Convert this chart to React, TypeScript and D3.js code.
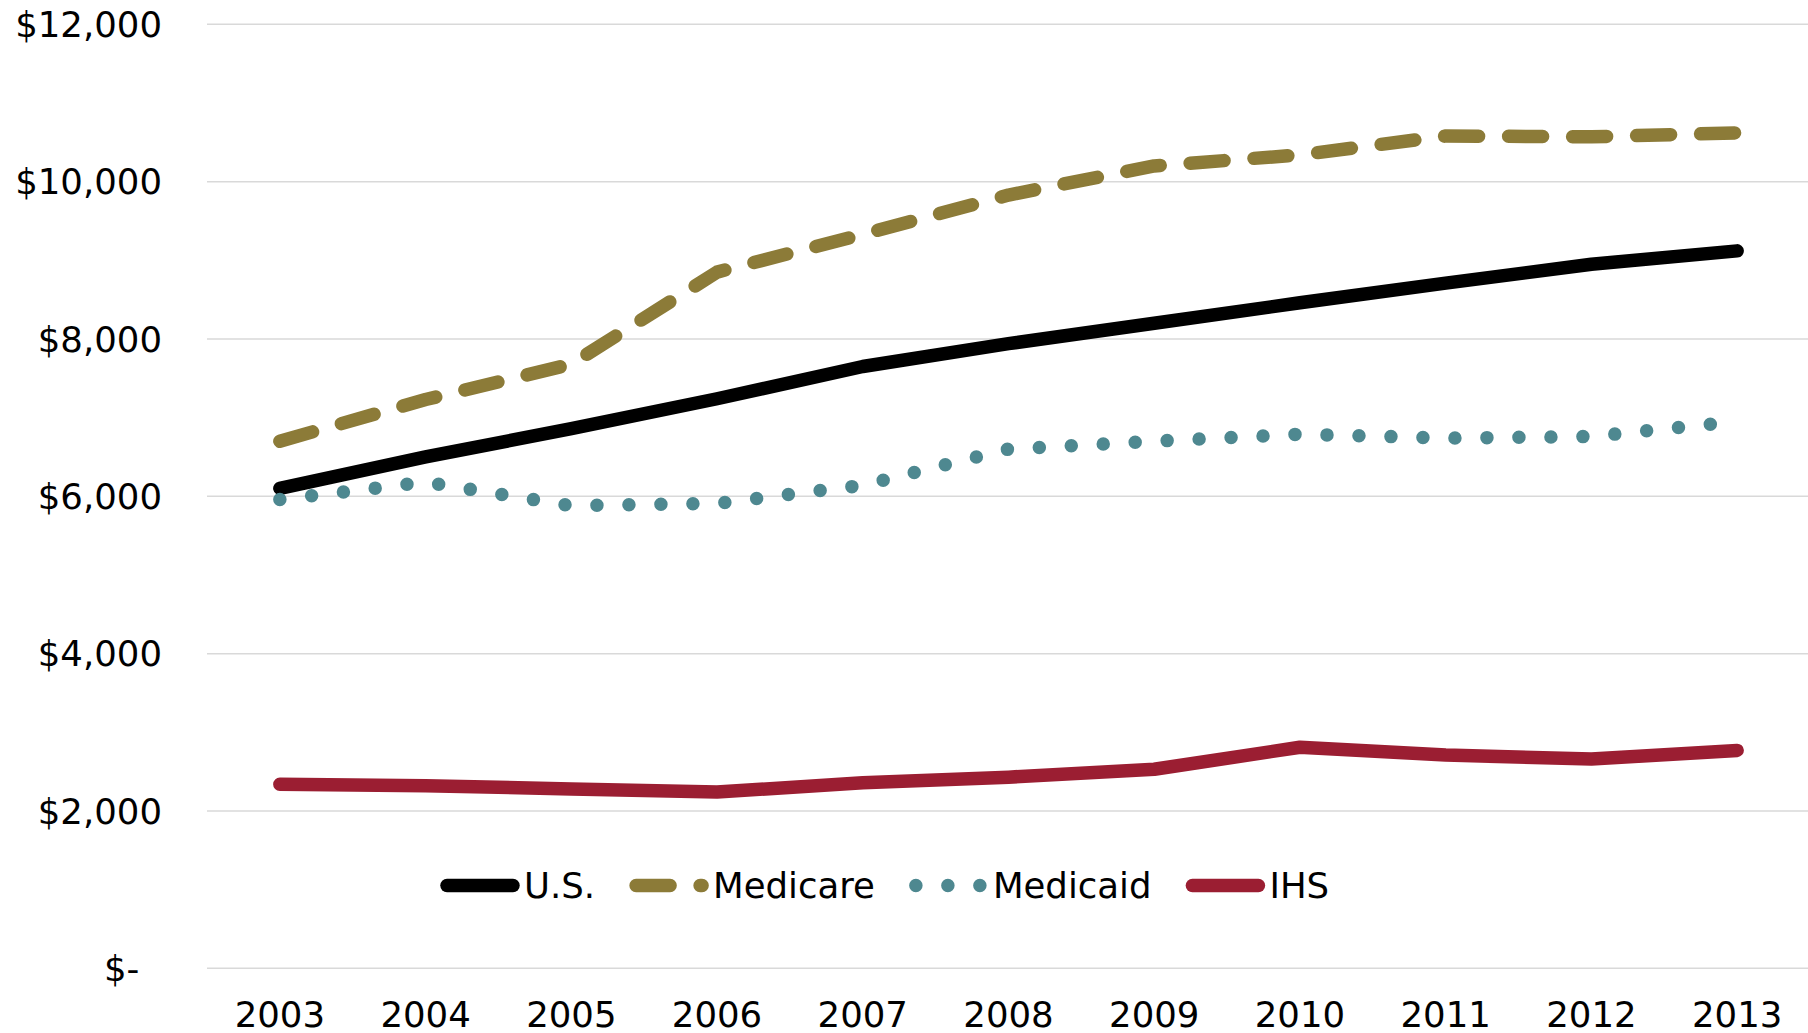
import React, { useMemo } from "react";
import * as d3 from "d3";

// Per-capita spending, 2003-2013
const years = ["2003", "2004", "2005", "2006", "2007", "2008", "2009", "2010", "2011", "2012", "2013"];
const usValues = [6100, 6500, 6860, 7240, 7650, 7940, 8200, 8460, 8710, 8950, 9120];
const medicareValues = [6700, 7230, 7680, 8850, 9330, 9830, 10200, 10340, 10580, 10570, 10620];
const medicaidValues = [5960, 6180, 5880, 5910, 6140, 6600, 6700, 6790, 6740, 6760, 6950];
const ihsValues = [2340, 2320, 2280, 2240, 2360, 2430, 2530, 2810, 2710, 2660, 2770];

const yTicks = [0, 2000, 4000, 6000, 8000, 10000, 12000];
const yTickLabels = ["$-  ", "$2,000", "$4,000", "$6,000", "$8,000", "$10,000", "$12,000"];

const seriesNames = ["U.S.", "Medicare", "Medicaid", "IHS"];
const seriesValues = [usValues, medicareValues, medicaidValues, ihsValues];

const FONT = "DejaVu Sans";
const FONT_SIZE = 35.5;

export default function App() {
	const width = 1808;
	const height = 1033;
	const plotLeft = 207;
	const plotRight = 1810;
	const plotTop = 24.3;
	const plotBottom = 968.3;

	const colors = ["#000000", "#8c7b38", "#4e8890", "#9b1e32"];
	const dashes = [undefined, "34 30", "0 32", undefined];
	const strokeW = 13.5;

	const x = d3.scalePoint<string>().domain(years).range([plotLeft, plotRight]).padding(0.5);
	const y = d3.scaleLinear().domain([0, 12000]).range([plotBottom, plotTop]);

	const line = d3
		.line<number>()
		.x((_, i) => x(years[i]) as number)
		.y((d) => y(d));

	// measure legend labels so the entries sit next to each other
	const textWidths = useMemo(() => {
		const ctx = document.createElement("canvas").getContext("2d");
		if (!ctx) return seriesNames.map((s) => s.length * 20);
		ctx.font = `${FONT_SIZE}px "${FONT}"`;
		return seriesNames.map((s) => ctx.measureText(s).width);
	}, []);

	const legendY = 885.6;
	const sampleLen = 66;
	const legendItems: { sx: number; tx: number }[] = [];
	let cursor = 447;
	seriesNames.forEach((_, i) => {
		legendItems.push({ sx: cursor, tx: cursor + sampleLen + 11 });
		cursor += sampleLen + 11 + textWidths[i] + 41;
	});

	return (
		<svg
			width={width}
			height={height}
			style={{ position: "absolute", left: 0, top: 0, background: "#fff" }}
			fontFamily={FONT}
			fontSize={FONT_SIZE}
		>
			{/* gridlines */}
			<g>
				{yTicks.map((t) => (
					<line
						key={t}
						x1={plotLeft}
						x2={width}
						y1={y(t)}
						y2={y(t)}
						stroke="#d9d9d9"
						strokeWidth={1.5}
					/>
				))}
			</g>

			{/* y axis labels */}
			<g>
				{yTicks.map((t, i) => (
					<text
						key={t}
						x={162}
						y={y(t)}
						dy="0.36em"
						textAnchor="end"
						fill="#000"
						style={{ whiteSpace: "pre" }}
					>
						{yTickLabels[i]}
					</text>
				))}
			</g>

			{/* x axis labels */}
			<g>
				{years.map((yr) => (
					<text key={yr} x={x(yr)} y={1027} textAnchor="middle" fill="#000">
						{yr}
					</text>
				))}
			</g>

			{/* series */}
			{seriesValues.map((vals, i) => (
				<path
					key={seriesNames[i]}
					d={line(vals) || undefined}
					fill="none"
					stroke={colors[i]}
					strokeWidth={strokeW}
					strokeLinecap="round"
					strokeLinejoin="round"
					strokeDasharray={dashes[i]}
				/>
			))}

			{/* legend */}
			<g>
				{legendItems.map((it, i) => (
					<g key={seriesNames[i]}>
						<line
							x1={it.sx}
							x2={it.sx + sampleLen}
							y1={legendY}
							y2={legendY}
							stroke={colors[i]}
							strokeWidth={strokeW}
							strokeLinecap="round"
							strokeDasharray={dashes[i]}
						/>
						<text x={it.tx} y={legendY} dy="0.36em" fill="#000">
							{seriesNames[i]}
						</text>
					</g>
				))}
			</g>
		</svg>
	);
}
